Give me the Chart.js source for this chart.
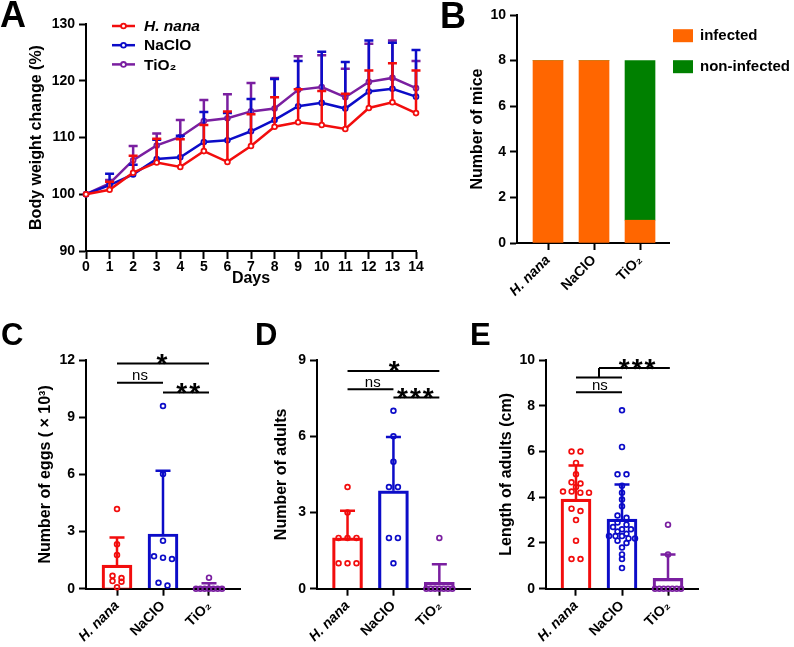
<!DOCTYPE html>
<html><head><meta charset="utf-8">
<script src="https://cdn.jsdelivr.net/npm/chart.js@4.4.1/dist/chart.umd.min.js"></script>
<style>
html,body{margin:0;padding:0;background:#fff;}
body{width:794px;height:647px;position:relative;overflow:hidden;font-family:"Liberation Sans",Arial,sans-serif;}
canvas{position:absolute;}
.lab{position:absolute;font-weight:bold;line-height:1;color:#000;font-family:"Liberation Sans",Arial,sans-serif;}
</style></head><body>
<canvas id="cA" width="440" height="300" style="left:0;top:0"></canvas>
<canvas id="cB" width="394" height="310" style="left:400px;top:0"></canvas>
<canvas id="cC" width="262" height="337" style="left:0;top:310px"></canvas>
<canvas id="cD" width="218" height="337" style="left:262px;top:310px"></canvas>
<canvas id="cE" width="314" height="337" style="left:480px;top:310px"></canvas>
<div class="lab" style="left:0;top:-3px;font-size:36px">A</div>
<div class="lab" style="left:440px;top:-2px;font-size:36px">B</div>
<div class="lab" style="left:1px;top:319px;font-size:31px">C</div>
<div class="lab" style="left:255px;top:319px;font-size:31px">D</div>
<div class="lab" style="left:470px;top:319px;font-size:31px">E</div>
<script>
// ---------- data ----------
const GROUPS = ['H. nana', 'NaClO', 'TiO\u2082'];
const DAYS = [0,1,2,3,4,5,6,7,8,9,10,11,12,13,14];
const HN_MEAN = [100, 100.8, 103.8, 105.6, 104.8, 107.6, 105.7, 108.5, 111.9, 112.7, 112.2, 111.5, 115.2, 116.2, 114.3];
const HN_SD   = [0, 1.4, 3.0, 4.2, 4.9, 4.6, 8.9, 5.6, 5.2, 5.8, 6.0, 6.2, 6.6, 6.9, 7.5];
const NA_MEAN = [100, 101.6, 103.5, 106.2, 106.5, 109.2, 109.5, 111.1, 113.1, 115.5, 116.1, 115.1, 118.1, 118.6, 117.2];
const NA_SD   = [0, 2.0, 1.7, 3.4, 3.8, 5.3, 4.8, 5.7, 7.2, 8.0, 9.0, 8.2, 9.0, 8.1, 8.2];
const TI_MEAN = [100, 101.9, 106.0, 108.6, 110.1, 112.9, 113.4, 114.6, 115.1, 118.4, 118.9, 117.1, 119.8, 120.5, 118.7];
const TI_SD   = [0, 0.6, 2.5, 2.1, 3.0, 3.7, 4.2, 5.0, 5.4, 5.9, 5.6, 5.0, 6.7, 6.6, 4.8];

const INFECTED = [8, 8, 1];
const NON_INFECTED = [0, 0, 7];
const B_LEGEND = ['infected', 'non-infected'];

const EGGS_HN = [4.18, 2.33, 1.77, 0.68, 0.56, 0.40, 0.37, 0.07];
const EGGS_NA = [9.59, 6.02, 2.52, 1.70, 1.63, 1.56, 0.31, 0.17];
const EGGS_TI = [0.58, 0, 0, 0, 0, 0, 0, 0];
const EGGS_MEAN = [1.24, 2.87, 0.08];
const EGGS_SD = [1.45, 3.32, 0.20];

const ADULTS_HN = [4, 3, 2, 2, 2, 1, 1, 1];
const ADULTS_NA = [7, 6, 5, 4, 4, 2, 2, 1];
const ADULTS_TI = [2, 0, 0, 0, 0, 0, 0, 0];
const ADULTS_MEAN = [2.0, 3.85, 0.25];
const ADULTS_SD = [1.07, 2.12, 0.71];

const LEN_HN = [6.0, 6.0, 5.5, 5.0, 4.65, 4.6, 4.45, 4.25, 4.25, 4.2, 4.2, 3.5, 3.4, 3.0, 2.1, 1.3, 1.3];
const LEN_NA = [7.8, 6.2, 5.0, 5.0, 4.5, 4.2, 3.9, 3.6, 3.2, 3.1, 2.9, 2.8, 2.7, 2.6, 2.6, 2.5, 2.4, 2.3, 2.3, 2.3, 2.2, 2.2, 2.1, 2.0, 1.8, 1.5, 1.3, 0.9];
const LEN_TI = [2.8, 1.5, 0, 0, 0, 0, 0, 0, 0];
const LEN_MEAN = [3.92, 3.04, 0.45];
const LEN_SD = [1.47, 1.52, 1.05];

// significance annotations (data units: category index, value)
const SIG_C = {lines: [[0,11.82,2,11.82],[0,10.81,1,10.81],[1,10.29,2,10.29]], texts: [[1,11.82,'*'],[0.5,10.81,'ns'],[1.57,10.29,'**']]};
const SIG_D = {lines: [[0,8.57,2,8.57],[0,7.85,1,7.85],[1,7.52,2,7.52]], texts: [[1.04,8.57,'*'],[0.55,7.85,'ns'],[1.5,7.52,'***']]};
const SIG_E = {lines: [[0,8.59,1,8.59],[0,9.24,1,9.24],[0.5,9.24,0.5,9.65],[0.5,9.65,2.04,9.65]], texts: [[0.52,8.59,'ns'],[1.35,9.65,'***']]};

// ---------- style ----------
const FONT = '"Liberation Sans", Arial, sans-serif';
const COLORS = ['#f20d0d', '#0c0cc8', '#7a1fa0'];
const B_COLORS = ['#ff6600', '#008000'];
Chart.defaults.font.family = FONT;
Chart.defaults.color = '#000';
Chart.defaults.animation = false;
Chart.defaults.events = [];
Chart.defaults.plugins.legend.display = false;
Chart.defaults.plugins.tooltip.enabled = false;

const BORDER = {display: true, width: 2, color: '#000'};
function tickGrid(len) { return {display: true, drawOnChartArea: false, drawTicks: true, tickLength: len, tickWidth: 2, tickColor: '#000', offset: false}; }
function yAxis(o) {
  return {type: 'linear', position: 'left', min: o.min, max: o.max,
    ticks: {stepSize: o.step, font: {size: 14, weight: 'bold'}, color: '#000', padding: 4},
    grid: tickGrid(7), border: BORDER,
    title: {display: true, text: o.title, color: '#000', font: {size: 16, weight: 'bold'}, padding: {top: o.titleOff, bottom: 0}},
    afterFit(s) { s.width = o.width; }};
}
function catAxis(o) {
  return {type: 'linear', position: 'bottom', min: o.min, max: o.max, offset: false,
    afterBuildTicks(s) { s.ticks = GROUPS.map((_, i) => ({value: i})); },
    ticks: {autoSkip: false, minRotation: 45, maxRotation: 45, padding: 2, color: '#000',
      callback: (v) => GROUPS[v],
      font: (c) => ({size: 14, weight: 'bold', style: c.index === 0 ? 'italic' : 'normal'})},
    grid: tickGrid(7), border: BORDER,
    afterFit(s) { s.height = o.height; }};
}

// ---------- plugins ----------
function drawEB(chart, i, o) {
  const ds = chart.data.datasets[i];
  if (!ds.sd) return;
  const meta = chart.getDatasetMeta(i);
  const ys = chart.scales[meta.yAxisID];
  const ctx = chart.ctx;
  ctx.save();
  ctx.lineWidth = o.lw;
  meta.data.forEach((el, j) => {
    const s = ds.sd[j];
    if (!s) return;
    const top = ys.getPixelForValue(ds.data[j].y + s);
    ctx.strokeStyle = Array.isArray(ds.borderColor) ? ds.borderColor[j] : ds.borderColor;
    ctx.beginPath();
    ctx.moveTo(el.x, el.y); ctx.lineTo(el.x, top);
    ctx.moveTo(el.x - o.cap / 2, top); ctx.lineTo(el.x + o.cap / 2, top);
    ctx.stroke();
  });
  ctx.restore();
}
const errorBars = {
  id: 'errorBars',
  beforeDatasetDraw(chart, args, o) { if (o.mode === 'line') drawEB(chart, args.index, o); },
  afterDatasetsDraw(chart, args, o) { if (o.mode === 'bar') chart.data.datasets.forEach((d, i) => drawEB(chart, i, o)); }
};
const sig = {
  id: 'sig',
  afterDatasetsDraw(chart, args, o) {
    if (!o.lines) return;
    const ctx = chart.ctx, xs = chart.scales.x, ys = chart.scales.y;
    ctx.save();
    ctx.strokeStyle = '#000'; ctx.fillStyle = '#000'; ctx.lineWidth = 2; ctx.textAlign = 'center'; ctx.textBaseline = 'alphabetic';
    o.lines.forEach(l => {
      ctx.beginPath();
      ctx.moveTo(xs.getPixelForValue(l[0]), ys.getPixelForValue(l[1]));
      ctx.lineTo(xs.getPixelForValue(l[2]), ys.getPixelForValue(l[3]));
      ctx.stroke();
    });
    o.texts.forEach(t => {
      const star = t[2] !== 'ns';
      ctx.font = star ? 'bold 28px ' + FONT : '15px ' + FONT;
      ctx.letterSpacing = star ? '2px' : '0px';
      ctx.fillText(t[2], xs.getPixelForValue(t[0]), ys.getPixelForValue(t[1]) + (star ? 9.5 : -2.5));
    });
    ctx.restore();
  }
};
const legendA = {
  id: 'legendA',
  afterDraw(chart) {
    const ctx = chart.ctx, a = chart.chartArea;
    ctx.save();
    chart.data.datasets.forEach((ds, i) => {
      const y = a.top + 2 + i * 19.2, x0 = a.left + 26, x1 = a.left + 49;
      ctx.strokeStyle = ds.borderColor; ctx.lineWidth = 2.5;
      ctx.beginPath(); ctx.moveTo(x0, y); ctx.lineTo(x1, y); ctx.stroke();
      ctx.lineWidth = 1.8; ctx.fillStyle = '#fff';
      ctx.beginPath(); ctx.arc((x0 + x1) / 2, y, 2.4, 0, Math.PI * 2); ctx.fill(); ctx.stroke();
      ctx.fillStyle = '#000';
      ctx.font = (i === 0 ? 'italic ' : '') + 'bold 15.5px ' + FONT;
      ctx.textBaseline = 'middle'; ctx.textAlign = 'left';
      ctx.fillText(ds.label, a.left + 58, y + 1);
    });
    ctx.restore();
  }
};
const legendB = {
  id: 'legendB',
  afterDraw(chart) {
    const ctx = chart.ctx, a = chart.chartArea;
    ctx.save();
    chart.data.datasets.forEach((ds, i) => {
      const yc = a.top + 20.7 + i * 31;
      ctx.fillStyle = ds.backgroundColor;
      ctx.fillRect(a.right + 4, yc - 6.5, 20, 13);
      ctx.fillStyle = '#000';
      ctx.font = 'bold 15px ' + FONT;
      ctx.textBaseline = 'middle'; ctx.textAlign = 'left';
      ctx.fillText(ds.label, a.right + 31, yc);
    });
    ctx.restore();
  }
};

// simple beeswarm: rows of near-equal values spread symmetrically around the category
function swarm(values, center, rowTol) {
  const step = 0.195, maxW = 0.565;
  const sorted = values.slice().sort((a, b) => b - a);
  const out = [];
  let i = 0;
  while (i < sorted.length) {
    const start = sorted[i], row = [];
    while (i < sorted.length && start - sorted[i] <= rowTol) row.push(sorted[i++]);
    const k = row.length, sp = k > 1 ? Math.min(step, maxW / (k - 1)) : 0;
    row.forEach((v, j) => out.push({x: center + (j - (k - 1) / 2) * sp, y: v}));
  }
  return out;
}

// ---------- panel A ----------
const SERIES_A = [
  {label: GROUPS[0], mean: HN_MEAN, sd: HN_SD},
  {label: GROUPS[1], mean: NA_MEAN, sd: NA_SD},
  {label: GROUPS[2], mean: TI_MEAN, sd: TI_SD}
];
new Chart(document.getElementById('cA'), {
  type: 'line',
  data: {datasets: SERIES_A.map((s, i) => ({
    label: s.label, data: DAYS.map((d, j) => ({x: d, y: s.mean[j]})), sd: s.sd,
    borderColor: COLORS[i], borderWidth: 2.5, tension: 0,
    pointRadius: 2.4, pointBorderWidth: 1.8, pointBorderColor: COLORS[i], pointBackgroundColor: '#fff', clip: false
  }))},
  options: {
    responsive: false, devicePixelRatio: 1,
    layout: {padding: {left: 0, right: 24, top: 24, bottom: 0}},
    scales: {
      x: {type: 'linear', min: 0, max: 14,
        ticks: {stepSize: 1, autoSkip: false, maxRotation: 0, font: {size: 14, weight: 'bold'}, color: '#000', padding: 0},
        grid: tickGrid(8), border: BORDER,
        title: {display: true, text: 'Days', color: '#000', font: {size: 16, weight: 'bold'}, padding: {top: 0, bottom: 12}},
        afterFit(s) { s.height = 49; }},
      y: yAxis({min: 90, max: 130, step: 10, title: 'Body weight change (%)', titleOff: 27, width: 86})
    },
    plugins: {errorBars: {mode: 'line', cap: 9, lw: 2.5}}
  },
  plugins: [errorBars, legendA]
});

// ---------- panel B ----------
new Chart(document.getElementById('cB'), {
  type: 'bar',
  data: {datasets: [
    {label: B_LEGEND[0], data: GROUPS.map((g, i) => ({x: i, y: INFECTED[i]})), backgroundColor: B_COLORS[0], barThickness: 30},
    {label: B_LEGEND[1], data: GROUPS.map((g, i) => ({x: i, y: NON_INFECTED[i]})), backgroundColor: B_COLORS[1], barThickness: 30}
  ]},
  options: {
    responsive: false, devicePixelRatio: 1,
    layout: {padding: {left: 0, right: 125, top: 15, bottom: 0}},
    scales: {
      x: Object.assign(catAxis({min: -0.674, max: 2.63, height: 67}), {stacked: true}),
      y: Object.assign(yAxis({min: 0, max: 10, step: 2, title: 'Number of mice', titleOff: 68, width: 117}), {stacked: true})
    }
  },
  plugins: [legendB]
});

// ---------- panels C, D, E ----------
function dotChart(id, o) {
  const groups = o.values;
  new Chart(document.getElementById(id), {
    type: 'bar',
    data: {datasets: [
      ...groups.map((vals, i) => ({type: 'scatter', data: swarm(vals, i, o.rowTol),
        pointRadius: 2.4, pointBorderWidth: 1.7, pointBorderColor: COLORS[i], pointBackgroundColor: 'rgba(255,255,255,0)',
        borderColor: COLORS[i], clip: false})),
      {type: 'bar', data: GROUPS.map((g, i) => ({x: i, y: o.mean[i]})), sd: o.sd,
        borderColor: COLORS, backgroundColor: 'rgba(255,255,255,0)', borderWidth: 2.5, barThickness: 30, clip: false}
    ]},
    options: {
      responsive: false, devicePixelRatio: 1,
      layout: {padding: {left: 0, right: o.padRight, top: 50, bottom: 0}},
      scales: {
        x: catAxis({min: o.xmin, max: o.xmax, height: 58.3}),
        y: yAxis({min: 0, max: o.ymax, step: o.step, title: o.title, titleOff: o.titleOff, width: o.yWidth})
      },
      plugins: {errorBars: {mode: 'bar', cap: 15, lw: 2.5}, sig: o.sig}
    },
    plugins: [errorBars, sig]
  });
}
dotChart('cC', {values: [EGGS_HN, EGGS_NA, EGGS_TI], mean: EGGS_MEAN, sd: EGGS_SD, rowTol: 0.21,
  ymax: 12, step: 3, title: 'Number of eggs ( \u00d7 10\u00b3)', titleOff: 35.5, yWidth: 86, padRight: 22,
  xmin: -0.674, xmax: 2.674, sig: SIG_C});
dotChart('cD', {values: [ADULTS_HN, ADULTS_NA, ADULTS_TI], mean: ADULTS_MEAN, sd: ADULTS_SD, rowTol: 0.157,
  ymax: 9, step: 3, title: 'Number of adults', titleOff: 10, yWidth: 55, padRight: 10,
  xmin: -0.665, xmax: 2.668, sig: SIG_D});
dotChart('cE', {values: [LEN_HN, LEN_NA, LEN_TI], mean: LEN_MEAN, sd: LEN_SD, rowTol: 0.175,
  ymax: 10, step: 2, title: 'Length of adults (cm)', titleOff: 16.5, yWidth: 66, padRight: 96,
  xmin: -0.652, xmax: 2.652, sig: SIG_E});
</script>
</body></html>
